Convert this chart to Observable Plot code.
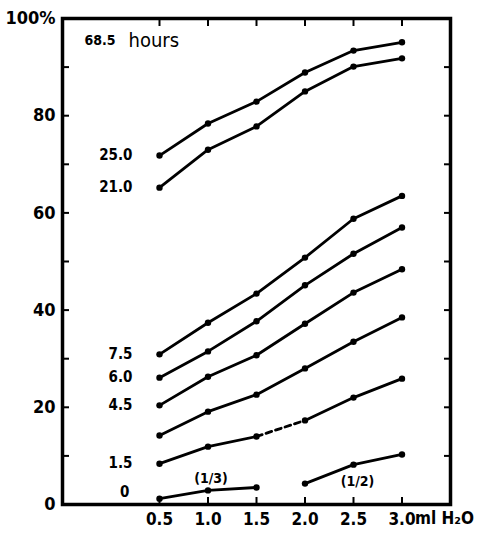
<!DOCTYPE html>
<html><head><meta charset="utf-8">
<script src="https://cdn.jsdelivr.net/npm/d3@7"></script>
<script src="https://cdn.jsdelivr.net/npm/@observablehq/plot@0.6"></script>
<style>body{margin:0;background:#fff}</style>
</head><body><div id="chart"></div>
<script>
// ml H2O added
const water = [0.5, 1.0, 1.5, 2.0, 2.5, 3.0];
// curve labels (hours), top to bottom
const curveLabels = ["25.0", "21.0", "7.5", "6.0", "4.5", "", "1.5"];
// % values per curve
const c250 = [71.8, 78.4, 82.9, 88.9, 93.4, 95.1];
const c210 = [65.2, 73.0, 77.8, 85.0, 90.1, 91.8];
const c75  = [30.9, 37.4, 43.4, 50.8, 58.8, 63.5];
const c60  = [26.1, 31.5, 37.7, 45.1, 51.6, 57.0];
const c45  = [20.4, 26.3, 30.7, 37.2, 43.6, 48.4];
const c30  = [14.2, 19.1, 22.6, 28.0, 33.5, 38.5];
const c15  = [8.4, 11.9, 14.0, 17.3, 22.0, 25.9];
// 0 hours: two separate pieces
const zeroLabel = "0";
const zeroWaterA = [0.5, 1.0, 1.5];
const zeroA = [1.2, 2.9, 3.5];
const zeroWaterB = [2.0, 2.5, 3.0];
const zeroB = [4.3, 8.2, 10.3];
const zeroNotes = ["(1/3)", "(1/2)"];
const title = ["68.5", "hours"];
const yTicks = [0, 10, 20, 30, 40, 50, 60, 70, 80, 90, 100];
const yLabelTicks = [0, 20, 40, 60, 80, 100];
const unit = "ml H\u2082O";

const curves = [c250, c210, c75, c60, c45, c30, c15];
const solid = [];
const dashed = [];
const points = [];
curves.forEach((c, i) => {
  c.forEach((v, j) => {
    points.push({x: water[j], y: v});
    if (i === 6) {
      solid.push({x: water[j], y: v, k: j <= 2 ? "6a" : "6b"});
      if (j === 2 || j === 3) dashed.push({x: water[j], y: v});
    } else {
      solid.push({x: water[j], y: v, k: String(i)});
    }
  });
});
zeroA.forEach((v, j) => { solid.push({x: zeroWaterA[j], y: v, k: "za"}); points.push({x: zeroWaterA[j], y: v}); });
zeroB.forEach((v, j) => { solid.push({x: zeroWaterB[j], y: v, k: "zb"}); points.push({x: zeroWaterB[j], y: v}); });

const labelRows = curves.map((c, i) => ({x: water[0], y: c[0], t: curveLabels[i]})).filter(d => d.t !== "");

const FONT = "'DejaVu Sans Condensed', 'DejaVu Sans', sans-serif";

const chart = Plot.plot({
  width: 488,
  height: 538,
  marginLeft: 62,
  marginRight: 38,
  marginTop: 18,
  marginBottom: 34,
  style: {fontFamily: FONT, background: "#fff", color: "#000"},
  x: {domain: [-0.5, 3.5]},
  y: {domain: [0, 100]},
  marks: [
    Plot.line(solid, {x: "x", y: "y", z: "k", stroke: "#000", strokeWidth: 2.8}),
    Plot.line(dashed, {x: "x", y: "y", stroke: "#000", strokeWidth: 2.8, strokeDasharray: "6,4"}),
    Plot.dot(points, {x: "x", y: "y", r: 3.2, fill: "#000"}),
    Plot.text(labelRows, {x: "x", y: "y", text: "t", textAnchor: "end", dx: -27, fontSize: 15, fontWeight: "bold"}),
    Plot.text([zeroLabel], {x: zeroWaterA[0], y: zeroA[0], text: d => d, textAnchor: "end", dx: -30, dy: -6, fontSize: 15, fontWeight: "bold"}),
    Plot.text([zeroNotes[0]], {x: zeroWaterA[1], y: zeroA[1], text: d => d, dx: 3, dy: -12, fontSize: 14, fontWeight: "bold"}),
    Plot.text([zeroNotes[1]], {x: zeroWaterB[1], y: zeroB[1], text: d => d, dx: 4, dy: 17, fontSize: 14, fontWeight: "bold"}),
    Plot.text([title[0]], {frameAnchor: "top-left", text: d => d, textAnchor: "start", dx: 22, dy: 17, fontSize: 14, fontWeight: "bold"}),
    Plot.text([title[1]], {frameAnchor: "top-left", text: d => d, textAnchor: "start", dx: 66, dy: 14, fontSize: 20}),
    Plot.frame({stroke: "#000", strokeWidth: 3.5}),
    Plot.axisY({anchor: "left", ticks: yTicks, tickSize: -7, strokeWidth: 2, fill: "none", label: null}),
    Plot.axisY({anchor: "right", ticks: yTicks, tickSize: -7, strokeWidth: 2, fill: "none", label: null}),
    Plot.axisX({anchor: "top", ticks: water, tickSize: -7, strokeWidth: 2, fill: "none", label: null}),
    Plot.axisX({anchor: "bottom", ticks: water, tickSize: -7, strokeWidth: 2, fill: "none", label: null}),
    Plot.axisY({anchor: "left", ticks: yLabelTicks, tickSize: 0, tickPadding: 7, tickFormat: d => d === 100 ? "100%" : String(d), fontSize: 18, fontWeight: "bold", label: null}),
    Plot.axisX({anchor: "bottom", ticks: water, tickSize: 0, tickPadding: 8, tickFormat: d3.format(".1f"), fontSize: 17, fontWeight: "bold", label: null}),
    Plot.text([unit], {x: water[5], frameAnchor: "bottom", text: d => d, textAnchor: "start", dx: 13, dy: 19, fontSize: 17, fontWeight: "bold"})
  ]
});
document.getElementById("chart").appendChild(chart);
</script>
</body></html>
